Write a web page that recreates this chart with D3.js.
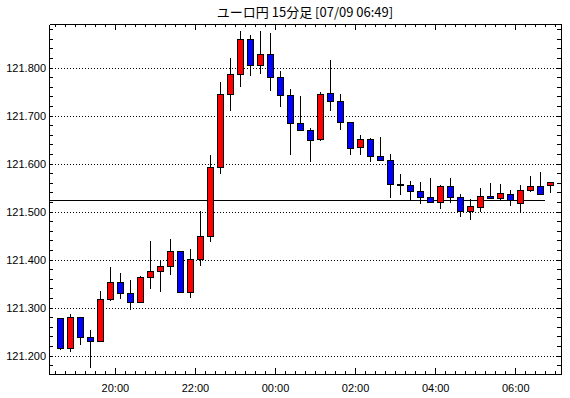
<!DOCTYPE html>
<html>
<head>
<meta charset="utf-8">
<script src="https://cdn.jsdelivr.net/npm/d3@7"></script>
<style>
  body { margin: 0; background: #fff; }
  svg { display: block; font-family: "Liberation Sans", Arial, sans-serif; }
  line, rect, path { shape-rendering: crispEdges; }
</style>
</head>
<body>
<svg id="chart" width="570" height="398"></svg>
<script>
// ユーロ円 15分足 — one entry per 15 minute candle
const times = [
  "07/08 18:30", "07/08 18:45", "07/08 19:00", "07/08 19:15", "07/08 19:30", "07/08 19:45",
  "07/08 20:00", "07/08 20:15", "07/08 20:30", "07/08 20:45", "07/08 21:00", "07/08 21:15",
  "07/08 21:30", "07/08 21:45", "07/08 22:00", "07/08 22:15", "07/08 22:30", "07/08 22:45",
  "07/08 23:00", "07/08 23:15", "07/08 23:30", "07/08 23:45", "07/09 00:00", "07/09 00:15",
  "07/09 00:30", "07/09 00:45", "07/09 01:00", "07/09 01:15", "07/09 01:30", "07/09 01:45",
  "07/09 02:00", "07/09 02:15", "07/09 02:30", "07/09 02:45", "07/09 03:00", "07/09 03:15",
  "07/09 03:30", "07/09 03:45", "07/09 04:00", "07/09 04:15", "07/09 04:30", "07/09 04:45",
  "07/09 05:00", "07/09 05:15", "07/09 05:30", "07/09 05:45", "07/09 06:00", "07/09 06:15",
  "07/09 06:30", "07/09 06:45"
];
const opens = [
  121.279, 121.216, 121.281, 121.239, 121.231, 121.318, 121.354, 121.331, 121.312, 121.364,
  121.377, 121.387, 121.418, 121.333, 121.402, 121.449, 121.593, 121.745, 121.787, 121.860,
  121.806, 121.829, 121.781, 121.743, 121.685, 121.670, 121.651, 121.747, 121.731, 121.687,
  121.635, 121.652, 121.616, 121.608, 121.557, 121.556, 121.543, 121.531, 121.520, 121.554,
  121.531, 121.502, 121.510, 121.533, 121.529, 121.537, 121.518, 121.545, 121.554, 121.555
];
const highs = [
  121.279, 121.287, 121.281, 121.254, 121.335, 121.385, 121.373, 121.358, 121.366, 121.438,
  121.399, 121.443, 121.418, 121.422, 121.502, 121.617, 121.771, 121.821, 121.877, 121.869,
  121.877, 121.873, 121.794, 121.756, 121.741, 121.674, 121.749, 121.815, 121.745, 121.687,
  121.660, 121.653, 121.656, 121.620, 121.579, 121.564, 121.562, 121.571, 121.556, 121.570,
  121.537, 121.527, 121.549, 121.560, 121.558, 121.545, 121.556, 121.575, 121.583, 121.562
];
const lows = [
  121.211, 121.208, 121.222, 121.174, 121.230, 121.313, 121.318, 121.295, 121.310, 121.338,
  121.332, 121.367, 121.333, 121.319, 121.387, 121.437, 121.578, 121.709, 121.759, 121.782,
  121.786, 121.751, 121.719, 121.619, 121.668, 121.603, 121.647, 121.710, 121.670, 121.618,
  121.618, 121.604, 121.607, 121.528, 121.534, 121.524, 121.516, 121.519, 121.506, 121.518,
  121.489, 121.483, 121.499, 121.528, 121.525, 121.512, 121.499, 121.541, 121.535, 121.539
];
const closes = [
  121.216, 121.281, 121.239, 121.231, 121.318, 121.354, 121.331, 121.312, 121.364, 121.377,
  121.387, 121.418, 121.333, 121.402, 121.449, 121.593, 121.745, 121.787, 121.860, 121.806,
  121.829, 121.781, 121.743, 121.685, 121.670, 121.649, 121.745, 121.731, 121.687, 121.633,
  121.652, 121.616, 121.608, 121.558, 121.556, 121.543, 121.531, 121.520, 121.554, 121.531,
  121.502, 121.512, 121.533, 121.529, 121.539, 121.524, 121.545, 121.554, 121.537, 121.562
];

const yTickValues = [121.2, 121.3, 121.4, 121.5, 121.6, 121.7, 121.8];
const xTickTimes = ["07/08 20:00", "07/08 22:00", "07/09 00:00", "07/09 02:00", "07/09 04:00", "07/09 06:00"];
const refLevel = 121.524;
const refEnd = "07/09 06:45";
const title = "ユーロ円 15分足 [07/09 06:49]";

const parse = d3.timeParse("%m/%d %H:%M");
const candles = times.map((t, i) => ({
  t: parse(t), o: opens[i], h: highs[i], l: lows[i], c: closes[i]
}));

const plotLeft = 49, plotRight = 561, plotTop = 24, plotBottom = 374;
const svg = d3.select("#chart");

const x = d3.scaleTime()
  .domain([new Date(+parse("07/08 18:21") + 18000), new Date(+parse("07/09 07:08") + 33000)])
  .range([plotLeft, plotRight]);
const y = d3.scaleLinear()
  .domain([121.1615, 121.891])
  .range([plotBottom, plotTop]);

const mid = d => new Date(+d.t + 7.5 * 60000);

// grid lines
svg.append("g")
  .selectAll("line")
  .data(yTickValues)
  .join("line")
  .attr("x1", plotLeft).attr("x2", plotRight)
  .attr("y1", d => Math.round(y(d)) + 0.5)
  .attr("y2", d => Math.round(y(d)) + 0.5)
  .attr("stroke", "#000")
  .attr("stroke-dasharray", "1,2");

// reference line
svg.append("line")
  .attr("x1", plotLeft).attr("x2", Math.round(x(parse(refEnd))))
  .attr("y1", Math.round(y(refLevel)) + 0.5)
  .attr("y2", Math.round(y(refLevel)) + 0.5)
  .attr("stroke", "#000");

// candles
const g = svg.append("g");
g.selectAll("line.wick")
  .data(candles)
  .join("line")
  .attr("class", "wick")
  .attr("x1", d => Math.round(x(mid(d))) + 0.5)
  .attr("x2", d => Math.round(x(mid(d))) + 0.5)
  .attr("y1", d => Math.round(y(d.h)))
  .attr("y2", d => Math.round(y(d.l)))
  .attr("stroke", "#000");

g.selectAll("rect")
  .data(candles)
  .join("rect")
  .attr("x", d => Math.round(x(mid(d))) - 2.5)
  .attr("width", 6)
  .attr("y", d => Math.round(y(Math.max(d.o, d.c))) + 0.5)
  .attr("height", d => Math.max(1, Math.round(y(Math.min(d.o, d.c))) - Math.round(y(Math.max(d.o, d.c)))))
  .attr("fill", d => d.c >= d.o ? "#ff0000" : "#0000ff")
  .attr("stroke", "#000")
  .attr("stroke-width", 1);

// axes
const minor = x.ticks(d3.timeMinute.every(15));
const fmt = d3.timeFormat("%H:%M");
const majors = xTickTimes.map(parse);

function styleAxis(sel) {
  sel.selectAll("path.domain").attr("stroke", "#000");
  sel.selectAll(".tick line").attr("stroke", "#000");
  sel.selectAll("text").attr("fill", "#000").attr("font-size", 11)
    .attr("font-family", "Liberation Sans, Arial, sans-serif");
}

svg.append("g").attr("transform", `translate(0,${plotBottom})`)
  .call(d3.axisBottom(x).tickValues(minor).tickSize(-3).tickSizeOuter(0).tickFormat(""))
  .call(styleAxis);
svg.append("g").attr("transform", `translate(0,${plotBottom})`)
  .call(d3.axisBottom(x).tickValues(majors).tickSize(-6).tickSizeOuter(0).tickPadding(10).tickFormat(fmt))
  .call(styleAxis);
svg.append("g").attr("transform", `translate(0,${plotTop})`)
  .call(d3.axisTop(x).tickValues(minor).tickSize(-3).tickSizeOuter(0).tickFormat(""))
  .call(styleAxis);
svg.append("g").attr("transform", `translate(0,${plotTop})`)
  .call(d3.axisTop(x).tickValues(majors).tickSize(-6).tickSizeOuter(0).tickFormat(""))
  .call(styleAxis);

const yMinor = d3.range(121.18, 121.9, 0.02).filter(v => y(v) > plotTop && y(v) < plotBottom);
svg.append("g").attr("transform", `translate(${plotLeft},0)`)
  .call(d3.axisLeft(y).tickValues(yMinor).tickSize(-4).tickSizeOuter(0).tickFormat(""))
  .call(styleAxis);
svg.append("g").attr("transform", `translate(${plotLeft},0)`)
  .call(d3.axisLeft(y).tickValues(yTickValues).tickSize(0).tickSizeOuter(0).tickPadding(3).tickFormat(d3.format(".3f")))
  .call(styleAxis);
svg.append("g").attr("transform", `translate(${plotRight},0)`)
  .call(d3.axisRight(y).tickValues(yMinor).tickSize(-4).tickSizeOuter(0).tickFormat(""))
  .call(styleAxis);

// title
svg.append("text")
  .attr("x", (plotLeft + plotRight) / 2)
  .attr("y", 17)
  .attr("text-anchor", "middle")
  .attr("font-family", "'Noto Sans CJK JP', sans-serif")
  .attr("font-size", 13)
  .text(title);
</script>
</body>
</html>
